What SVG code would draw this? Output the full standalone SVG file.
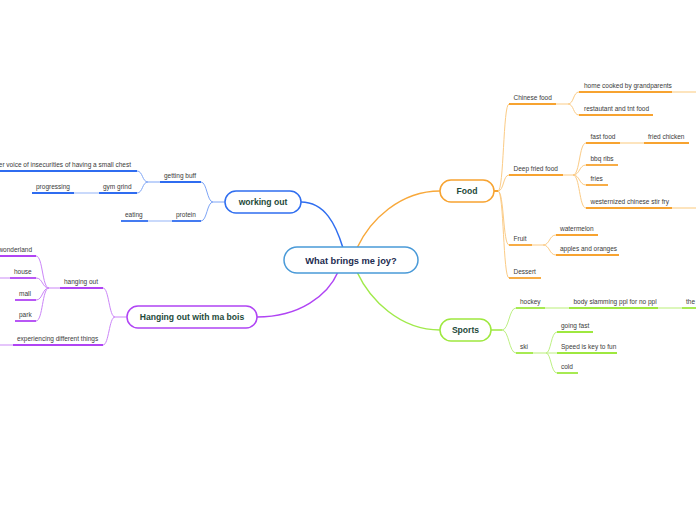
<svg xmlns="http://www.w3.org/2000/svg" width="696" height="520" viewBox="0 0 696 520">
<style>
.t{font-family:"Liberation Sans",Arial,sans-serif;font-size:6.5px;fill:#3a3a3a}
.te{font-family:"Liberation Sans",Arial,sans-serif;font-size:6.5px;fill:#3a3a3a;text-anchor:end}
.mt{font-family:"Liberation Sans",Arial,sans-serif;font-weight:bold;font-size:8.6px;fill:#1e4a3a;text-anchor:middle}
.ct{font-family:"Liberation Sans",Arial,sans-serif;font-weight:bold;font-size:9.3px;fill:#1c2b4f;text-anchor:middle}
.n{fill:#fff;stroke-width:1.5}
path,line{fill:none}
.ub{stroke:#2f6cf0;stroke-width:1.8}
.lb{stroke:#c3d5fb;stroke-width:1.8}
.cb{stroke:#7ea5f6;stroke-width:1}
.up{stroke:#b044f4;stroke-width:1.8}
.lp{stroke:#e3bffb;stroke-width:1.8}
.cp{stroke:#cb85f8;stroke-width:1}
.uo{stroke:#f7a330;stroke-width:1.8}
.lo{stroke:#fde1b6;stroke-width:1.8}
.co{stroke:#fbcb85;stroke-width:1}
.ug{stroke:#9ee83f;stroke-width:1.8}
.lg{stroke:#d8f6b4;stroke-width:1.8}
.cg{stroke:#bdf083;stroke-width:1}
</style>
<g id="connectors">
<path d="M343,248 C336,225 325,202 301,202" stroke="#2f6ef0" stroke-width="1.5"/>
<path d="M338,272 C328,295 300,317 257,317" stroke="#b044f4" stroke-width="1.5"/>
<path d="M357,248 C370,220 400,191 440,191" stroke="#f8a83a" stroke-width="1.5"/>
<path d="M357,272 C370,300 400,330 440,330" stroke="#a0ea4a" stroke-width="1.5"/>
<!-- blue -->
<path class="cb" d="M225,202 L213,202"/>
<path class="cb" d="M213,202 C207,202 207,182 201,182"/>
<path class="cb" d="M213,202 C207,202 207,221 201,221"/>
<path class="cb" d="M160,182 L148,182"/>
<path class="cb" d="M148,182 C142,182 143,171 137,171"/>
<path class="cb" d="M148,182 C142,182 143,193 137,193"/>
<line class="lb" x1="74" y1="193" x2="99" y2="193"/>
<line class="lb" x1="148" y1="221" x2="172" y2="221"/>
<!-- purple -->
<path class="cp" d="M127,317 L115,317"/>
<path class="cp" d="M115,317 C109,317 109,288 103,288"/>
<path class="cp" d="M115,317 C109,317 109,345 103,345"/>
<path class="cp" d="M60,288 L49,288"/>
<path class="cp" d="M49,288 C42,288 43,256 36,256"/>
<path class="cp" d="M49,288 C42,288 43,278 36,278"/>
<path class="cp" d="M49,288 C42,288 43,300 36,300"/>
<path class="cp" d="M49,288 C42,288 43,321 36,321"/>
<line class="lp" x1="0" y1="278" x2="10" y2="278"/>
<line class="lp" x1="0" y1="345" x2="13" y2="345"/>
<!-- orange -->
<path d="M494,191 L498,191" stroke="#f7a330" stroke-width="2"/>
<path class="co" d="M498,191 C504,191 503,104 509,104"/>
<path class="co" d="M498,191 C504,191 503,175 509,175"/>
<path class="co" d="M498,191 C504,191 503,245 509,245"/>
<path class="co" d="M498,191 C504,191 503,278 509,278"/>
<path class="co" d="M556,104 L568,104"/>
<path class="co" d="M568,104 C574,104 573,92 579,92"/>
<path class="co" d="M568,104 C574,104 573,115 579,115"/>
<path class="co" d="M563,175 L573,175"/>
<path class="co" d="M573,175 C580,175 579,143 586,143"/>
<path class="co" d="M573,175 C580,175 579,165 586,165"/>
<path class="co" d="M573,175 C580,175 579,185 586,185"/>
<path class="co" d="M573,175 C580,175 579,208 586,208"/>
<path class="co" d="M532,245 L543,245"/>
<path class="co" d="M543,245 C550,245 549,235 556,235"/>
<path class="co" d="M543,245 C550,245 549,255 556,255"/>
<line class="lo" x1="672" y1="92" x2="696" y2="92"/>
<line class="lo" x1="620" y1="143" x2="644" y2="143"/>
<line class="lo" x1="672" y1="208" x2="696" y2="208"/>
<!-- green -->
<path d="M491,330 L502,330" stroke="#9ee83f" stroke-width="1.5"/>
<path class="cg" d="M502,330 C509,330 509,308 516,308"/>
<path class="cg" d="M502,330 C509,330 509,353 516,353"/>
<line class="lg" x1="545" y1="308" x2="569" y2="308"/>
<line class="lg" x1="658" y1="308" x2="682" y2="308"/>
<line class="lg" x1="533" y1="353" x2="546" y2="353"/>
<path class="cg" d="M546,353 C551,353 551,332 557,332"/>
<path class="cg" d="M546,353 L557,353"/>
<path class="cg" d="M546,353 C551,353 551,373 557,373"/>
</g>
<g id="center">
<rect class="n" x="284" y="247" width="134" height="26" rx="13" stroke="#4a9ad8"/>
<text class="ct" x="351" y="263.5">What brings me joy?</text>
</g>
<g id="working-out">
<rect class="n" x="225" y="191" width="76" height="22" rx="11" stroke="#2f6ef0"/>
<text class="mt" x="263" y="205">working out</text>
</g>
<g id="getting-buff"><line class="ub" x1="160" y1="182" x2="201" y2="182"/><text class="t" x="164" y="177.5">getting buff</text></g>
<g id="inner-voice"><line class="ub" x1="0" y1="171" x2="137" y2="171"/><text class="te" x="131" y="166.5">inner voice of insecurities of having a small chest</text></g>
<g id="gym-grind"><line class="ub" x1="99" y1="193" x2="137" y2="193"/><text class="t" x="103" y="188.5">gym grind</text></g>
<g id="progressing"><line class="ub" x1="32" y1="193" x2="74" y2="193"/><text class="t" x="36" y="188.5">progressing</text></g>
<g id="protein"><line class="ub" x1="172" y1="221" x2="201" y2="221"/><text class="t" x="176" y="216.5">protein</text></g>
<g id="eating"><line class="ub" x1="121" y1="221" x2="148" y2="221"/><text class="t" x="125" y="216.5">eating</text></g>
<g id="hanging-out-with-ma-bois">
<rect class="n" x="127" y="306" width="130" height="22" rx="11" stroke="#b044f4"/>
<text class="mt" x="192" y="320">Hanging out with ma bois</text>
</g>
<g id="hanging-out"><line class="up" x1="60" y1="288" x2="103" y2="288"/><text class="t" x="64" y="283.5">hanging out</text></g>
<g id="wonderland"><line class="up" x1="0" y1="256" x2="36" y2="256"/><text class="te" x="32" y="251.5">wonderland</text></g>
<g id="house"><line class="up" x1="10" y1="278" x2="36" y2="278"/><text class="t" x="14" y="273.5">house</text></g>
<g id="mall"><line class="up" x1="15" y1="300" x2="36" y2="300"/><text class="t" x="19" y="295.5">mall</text></g>
<g id="park"><line class="up" x1="15" y1="321" x2="36" y2="321"/><text class="t" x="19" y="316.5">park</text></g>
<g id="experiencing"><line class="up" x1="13" y1="345" x2="103" y2="345"/><text class="t" x="17" y="340.5">experiencing different things</text></g>
<g id="food">
<rect class="n" x="440" y="180" width="54" height="22" rx="11" stroke="#f7a330"/>
<text class="mt" x="467" y="194">Food</text>
</g>
<g id="chinese-food"><line class="uo" x1="509" y1="104" x2="556" y2="104"/><text class="t" x="513.5" y="99.5">Chinese food</text></g>
<g id="home-cooked"><line class="uo" x1="579" y1="92" x2="672" y2="92"/><text class="t" x="584" y="87.5">home cooked by grandparents</text></g>
<g id="restautant"><line class="uo" x1="579" y1="115" x2="653" y2="115"/><text class="t" x="584" y="110.5">restautant and tnt food</text></g>
<g id="deep-fried-food"><line class="uo" x1="509" y1="175" x2="563" y2="175"/><text class="t" x="513.5" y="170.5">Deep fried food</text></g>
<g id="fast-food"><line class="uo" x1="586" y1="143" x2="620" y2="143"/><text class="t" x="590.5" y="138.5">fast food</text></g>
<g id="fried-chicken"><line class="uo" x1="644" y1="143" x2="689" y2="143"/><text class="t" x="648" y="138.5">fried chicken</text></g>
<g id="bbq-ribs"><line class="uo" x1="586" y1="165" x2="618" y2="165"/><text class="t" x="590.5" y="160.5">bbq ribs</text></g>
<g id="fries"><line class="uo" x1="586" y1="185" x2="608" y2="185"/><text class="t" x="590.5" y="180.5">fries</text></g>
<g id="westernized"><line class="uo" x1="586" y1="208" x2="672" y2="208"/><text class="t" x="590.5" y="203.5">westernized chinese stir fry</text></g>
<g id="fruit"><line class="uo" x1="509" y1="245" x2="532" y2="245"/><text class="t" x="513.5" y="240.5">Fruit</text></g>
<g id="watermelon"><line class="uo" x1="556" y1="235" x2="598" y2="235"/><text class="t" x="560" y="230.5">watermelon</text></g>
<g id="apples"><line class="uo" x1="556" y1="255" x2="619" y2="255"/><text class="t" x="560" y="250.5">apples and oranges</text></g>
<g id="dessert"><line class="uo" x1="509" y1="278" x2="541" y2="278"/><text class="t" x="513.5" y="273.5">Dessert</text></g>
<g id="sports">
<rect class="n" x="440" y="319" width="51" height="22" rx="11" stroke="#9ee83f"/>
<text class="mt" x="465.5" y="333">Sports</text>
</g>
<g id="hockey"><line class="ug" x1="516" y1="308" x2="545" y2="308"/><text class="t" x="520" y="303.5">hockey</text></g>
<g id="body-slamming"><line class="ug" x1="569" y1="308" x2="658" y2="308"/><text class="t" x="573.5" y="303.5">body slamming ppl for no ppl</text></g>
<g id="the"><line class="ug" x1="682" y1="308" x2="696" y2="308"/><text class="t" x="686" y="303.5">the</text></g>
<g id="ski"><line class="ug" x1="516" y1="353" x2="533" y2="353"/><text class="t" x="520" y="348.5">ski</text></g>
<g id="going-fast"><line class="ug" x1="557" y1="332" x2="593" y2="332"/><text class="t" x="561" y="327.5">going fast</text></g>
<g id="speed"><line class="ug" x1="557" y1="353" x2="617" y2="353"/><text class="t" x="561" y="348.5">Speed is key to fun</text></g>
<g id="cold"><line class="ug" x1="557" y1="373" x2="578" y2="373"/><text class="t" x="561" y="368.5">cold</text></g>
</svg>
